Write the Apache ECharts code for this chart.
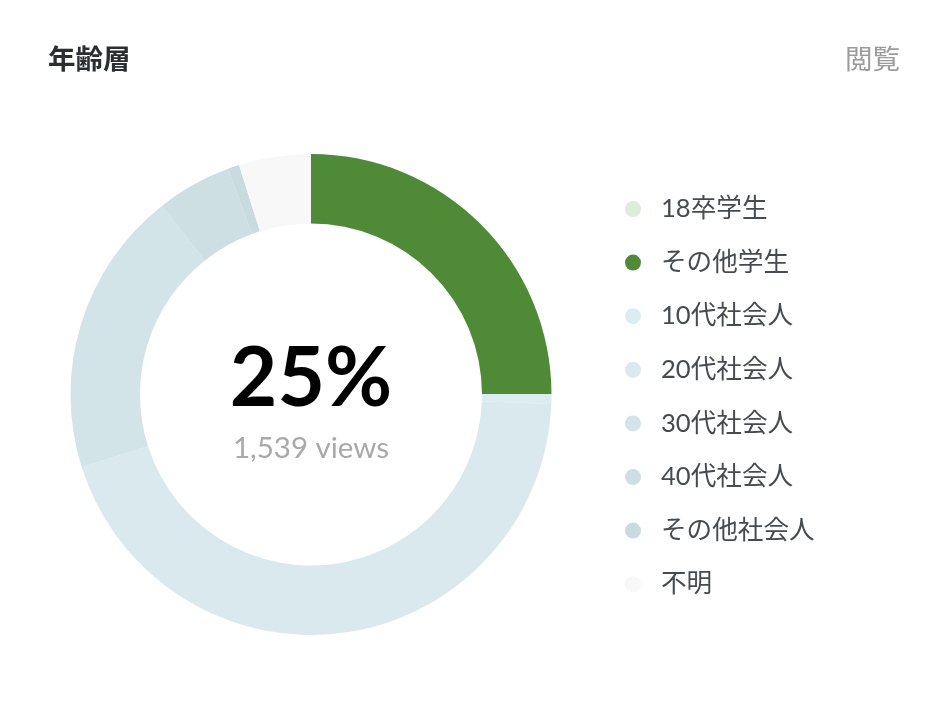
<!DOCTYPE html>
<html>
<head>
<meta charset="utf-8">
<script src="https://cdn.jsdelivr.net/npm/echarts@6/dist/echarts.min.js"></script>
<style>
html,body{margin:0;padding:0;background:#fff;}
#chart{width:944px;height:702px;}
</style>
</head>
<body>
<div id="chart"></div>
<script>
const categories = ['18卒学生', 'その他学生', '10代社会人', '20代社会人', '30代社会人', '40代社会人', 'その他社会人', '不明'];
const values = [0, 1539, 41, 2743, 1186, 311, 48, 298];
const colors = ['#dcedd8', '#4f8b37', '#dbedf0', '#d9e9ee', '#d3e4e9', '#cedfe3', '#c8dbde', '#f8f8f8'];
const titleText = '年齢層';
const rightText = '閲覧';
const centerPercent = '25%';
const centerViews = '1,539 views';

const chart = echarts.init(document.getElementById('chart'), null, {renderer: 'canvas'});
const data = categories.map((c, i) => ({name: c, value: values[i], itemStyle: {color: colors[i]}}));
const fontCJK = "Lato, 'Noto Sans CJK JP', sans-serif";

chart.setOption({
  animation: false,
  backgroundColor: '#ffffff',
  legend: {
    orient: 'vertical',
    left: 620,
    top: 189,
    icon: 'circle',
    itemWidth: 16,
    itemHeight: 16,
    itemGap: 23.6,
    selectedMode: false,
    data: categories,
    textStyle: {
      fontFamily: fontCJK,
      fontSize: 25.6,
      lineHeight: 30,
      color: '#464b50',
      padding: [0, 0, 0, 15]
    }
  },
  graphic: [
    {type: 'text', left: 48, top: 45, style: {text: titleText, font: "bold 27.5px 'Noto Sans CJK JP', sans-serif", fill: '#2b2e31'}},
    {type: 'text', right: 44, top: 45, style: {text: rightText, font: "27.5px 'Noto Sans CJK JP', sans-serif", fill: '#9b9b9b'}},
    {type: 'text', x: 311, y: 380, style: {text: centerPercent, font: "bold 82px Lato, sans-serif", fill: '#000000', align: 'center', verticalAlign: 'middle'}},
    {type: 'text', x: 311, y: 448, style: {text: centerViews, font: "29.5px Lato, sans-serif", fill: '#a9a9a9', align: 'center', verticalAlign: 'middle'}}
  ],
  series: [{
    type: 'pie',
    center: [311, 394.5],
    radius: [171, 240.5],
    startAngle: 90,
    clockwise: true,
    avoidLabelOverlap: false,
    label: {show: false},
    labelLine: {show: false},
    emphasis: {disabled: true},
    itemStyle: {borderWidth: 0},
    data: data
  }]
});
</script>
</body>
</html>
